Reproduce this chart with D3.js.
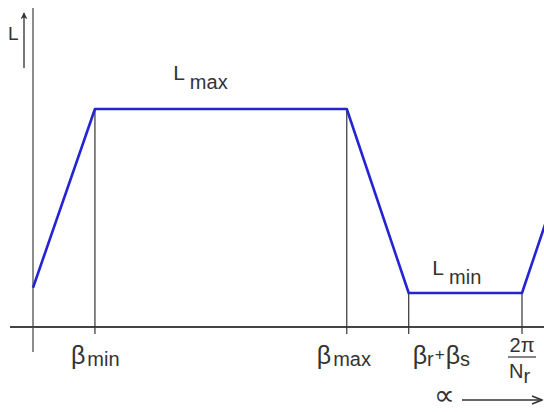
<!DOCTYPE html>
<html>
<head>
<meta charset="utf-8">
<script src="https://cdn.jsdelivr.net/npm/d3@7"></script>
<style>
  html, body { margin: 0; padding: 0; background: #fff; }
  svg { display: block; font-family: "Liberation Sans", Arial, sans-serif; }
  text { fill: #333; }
</style>
</head>
<body>
<svg id="chart" width="544" height="412"></svg>
<script>
// Rotor angle (degrees) at the corners of the inductance profile
const alphaKnots = [0, 7.6, 38.5, 46.1, 60, 67.6];
// Normalised phase inductance at those angles (Lmax = 1)
const inductance = [0.18, 1, 1, 0.156, 0.156, 1];

// Marked angles on the alpha axis and their names
const tickAlpha = [7.6, 38.5, 46.1, 60];
const tickNames = ["βmin", "βmax", "βr+βs", "2π/Nr"];

// Plateau levels and where their labels sit
const levelNames = ["Lmax", "Lmin"];
const levelValues = [1, 0.156];
const levelAlpha = [17.2, 49.0];

const svg = d3.select("#chart");
const W = 544, H = 412;

const x = d3.scaleLinear().domain([0, 62.7]).range([33, 544]);
const y = d3.scaleLinear().domain([0, 1]).range([327, 109]);

// Vertical axis
svg.append("line")
  .attr("x1", x(0)).attr("x2", x(0))
  .attr("y1", 8).attr("y2", 352)
  .attr("stroke", "#8c8c8c").attr("stroke-width", 2);

// Horizontal axis
svg.append("line")
  .attr("x1", 10).attr("x2", W)
  .attr("y1", y(0)).attr("y2", y(0))
  .attr("stroke", "#444").attr("stroke-width", 2);

// Drop lines from each corner down through the axis
svg.selectAll("line.drop")
  .data(tickAlpha)
  .join("line")
  .attr("class", "drop")
  .attr("x1", d => x(d)).attr("x2", d => x(d))
  .attr("y1", d => y(inductance[alphaKnots.indexOf(d)]))
  .attr("y2", y(0) + 7)
  .attr("stroke", "#333").attr("stroke-width", 1.2);

// Inductance profile
const line = d3.line().x((d, i) => x(alphaKnots[i])).y(d => y(d));
svg.append("path")
  .datum(inductance)
  .attr("d", line)
  .attr("fill", "none")
  .attr("stroke", "#2424d2")
  .attr("stroke-width", 2.6)
  .attr("stroke-linejoin", "round");

// Arrow markers
const defs = svg.append("defs");
defs.append("marker")
  .attr("id", "head")
  .attr("viewBox", "0 0 10 10")
  .attr("refX", 9).attr("refY", 5)
  .attr("markerWidth", 7).attr("markerHeight", 7)
  .attr("markerUnits", "userSpaceOnUse")
  .attr("orient", "auto")
  .append("path")
  .attr("d", "M0,0 L10,5 L0,10 L3,5 Z")
  .attr("fill", "#333");
defs.append("marker")
  .attr("id", "open")
  .attr("viewBox", "0 0 12 10")
  .attr("refX", 11).attr("refY", 5)
  .attr("markerWidth", 12).attr("markerHeight", 10)
  .attr("markerUnits", "userSpaceOnUse")
  .attr("orient", "auto")
  .append("path")
  .attr("d", "M1,1 L11,5 L1,9")
  .attr("fill", "none")
  .attr("stroke", "#333")
  .attr("stroke-width", 1.5);

// L arrow beside the vertical axis
svg.append("line")
  .attr("x1", 24).attr("x2", 24)
  .attr("y1", 68).attr("y2", 13)
  .attr("stroke", "#777").attr("stroke-width", 2)
  .attr("marker-end", "url(#head)");
svg.append("text")
  .attr("x", 8).attr("y", 40)
  .attr("font-size", 19)
  .text("L");

// Alpha arrow under the axis
svg.append("text")
  .attr("x", 434).attr("y", 405)
  .attr("font-size", 29)
  .text("∝");
svg.append("line")
  .attr("x1", 462).attr("x2", 542)
  .attr("y1", 400).attr("y2", 400)
  .attr("stroke", "#333").attr("stroke-width", 1.4)
  .attr("marker-end", "url(#open)");

// Beta tick labels: Greek letter plus subscript
function betaLabel(g, sub) {
  g.append("tspan").attr("font-size", 25).text("β");
  g.append("tspan").attr("font-size", 20).attr("dx", 2).attr("dy", 2).text(sub);
}
const tl = svg.append("g");
// βmin
betaLabel(tl.append("text").attr("x", x(tickAlpha[0]) - 24).attr("y", 364), tickNames[0].slice(1));
// βmax
betaLabel(tl.append("text").attr("x", x(tickAlpha[1]) - 30).attr("y", 364), tickNames[1].slice(1));
// βr+βs
{
  const t = tl.append("text").attr("x", x(tickAlpha[2]) + 4).attr("y", 364);
  const parts = tickNames[2].split("+");
  t.append("tspan").attr("font-size", 25).text("β");
  t.append("tspan").attr("font-size", 20).attr("dy", 2).text(parts[0].slice(1));
  t.append("tspan").attr("font-size", 17).attr("dy", -6).attr("dx", 1).text("+");
  t.append("tspan").attr("font-size", 25).attr("dy", 4).attr("dx", 1).text("β");
  t.append("tspan").attr("font-size", 20).attr("dy", 2).text(parts[1].slice(1));
}
// 2π/Nr as a stacked fraction
{
  const cx = x(tickAlpha[3]);
  const [num, den] = tickNames[3].split("/");
  tl.append("text").attr("x", cx).attr("y", 352)
    .attr("text-anchor", "middle").attr("font-size", 20).text(num);
  tl.append("line")
    .attr("x1", cx - 14).attr("x2", cx + 14)
    .attr("y1", 357).attr("y2", 357)
    .attr("stroke", "#333").attr("stroke-width", 1.2);
  const d = tl.append("text").attr("x", cx - 13).attr("y", 378).attr("font-size", 20);
  d.append("tspan").text(den[0]);
  d.append("tspan").attr("dy", 5).text(den.slice(1));
}

// Plateau labels
levelNames.forEach((name, i) => {
  const t = svg.append("text")
    .attr("x", x(levelAlpha[i]))
    .attr("y", y(levelValues[i]) - (i === 0 ? 29 : 18))
    .attr("font-size", 21);
  t.append("tspan").text(name[0]);
  t.append("tspan").attr("font-size", 20).attr("dx", 5).attr("dy", 9).text(name.slice(1));
});
</script>
</body>
</html>
